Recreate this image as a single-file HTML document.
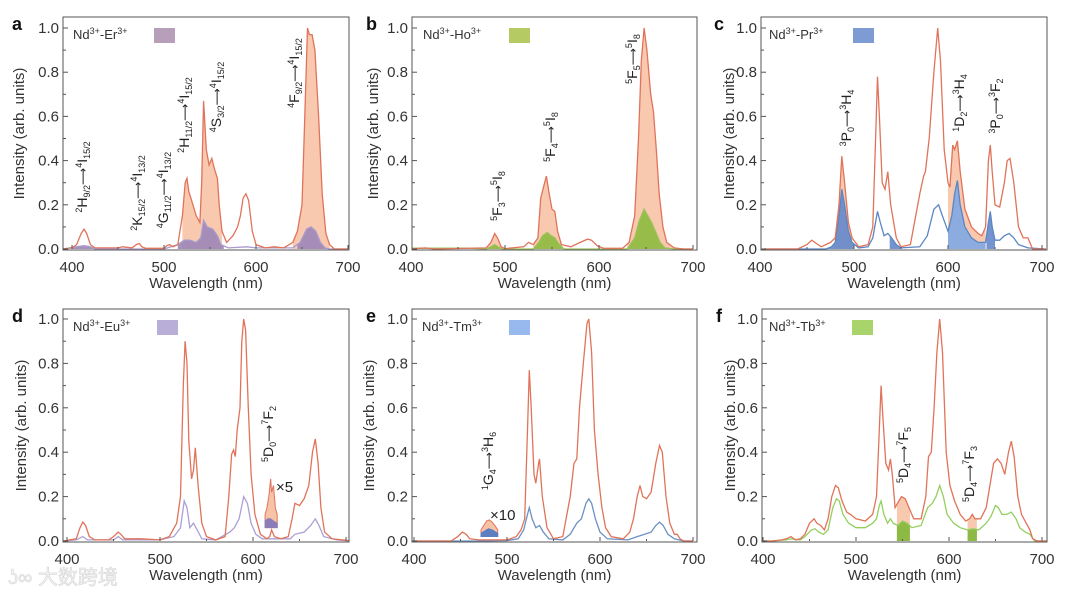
<!DOCTYPE html>
<html><head><meta charset="utf-8">
<style>
html,body{margin:0;padding:0;background:#fff;}
svg{display:block;font-family:"Liberation Sans","Noto Sans CJK SC",sans-serif;}
</style></head>
<body>
<svg id="fig" width="1080" height="597" viewBox="0 0 1080 597"></svg>
<script>
// ---------- DATA ----------
const xTicks = [400, 500, 600, 700];
const yTicks = [0, 0.2, 0.4, 0.6, 0.8, 1.0];
const yTickLabels = ["0.0", "0.2", "0.4", "0.6", "0.8", "1.0"];

const erNd = [[390,0],[400,0.005],[405,0.02],[410,0.07],[413,0.09],[416,0.07],[420,0.02],[425,0.005],[450,0.005],[455,0.01],[465,0.005],[470,0.02],[473,0.025],[476,0.01],[480,0.003],[500,0.003],[503,0.015],[506,0.02],[510,0.01],[515,0.02],[520,0.15],[523,0.3],[525,0.32],[527,0.26],[530,0.22],[535,0.15],[539,0.12],[541,0.3],[543,0.67],[546,0.45],[549,0.38],[552,0.41],[555,0.36],[558,0.32],[560,0.2],[563,0.08],[568,0.03],[575,0.06],[580,0.1],[583,0.15],[586,0.23],[589,0.25],[592,0.22],[596,0.08],[600,0.02],[610,0.005],[620,0.01],[630,0.005],[640,0.03],[645,0.08],[650,0.2],[653,0.6],[656,1.0],[658,0.97],[661,0.97],[664,0.9],[668,0.6],[672,0.25],[676,0.07],[680,0.02],[685,0],[700,0]];
const erDop = [[390,0],[405,0.01],[413,0.015],[420,0.01],[425,0],[500,0],[515,0.02],[522,0.04],[528,0.04],[535,0.03],[540,0.05],[543,0.13],[547,0.1],[553,0.09],[558,0.06],[562,0.02],[570,0.005],[590,0.01],[600,0.005],[640,0.005],[648,0.03],[655,0.09],[660,0.1],[665,0.08],[670,0.03],[675,0.005],[680,0],[700,0]];
const erNdFill = [[520,563],[640,680]];
const erDopFill = [[400,425],[515,565],[645,680]];

const hoNd = [[400,0],[415,0.005],[425,0],[480,0.005],[485,0.03],[489,0.07],[492,0.05],[496,0.01],[500,0.002],[520,0.01],[525,0.03],[530,0.02],[535,0.05],[538,0.23],[541,0.28],[544,0.33],[547,0.25],[550,0.18],[553,0.17],[556,0.08],[560,0.02],[570,0.01],[580,0.03],[588,0.045],[592,0.04],[598,0.015],[605,0.003],[625,0.003],[632,0.03],[638,0.15],[642,0.5],[645,0.85],[648,1.0],[651,0.9],[655,0.7],[658,0.62],[661,0.45],[664,0.25],[668,0.1],[672,0.03],[680,0.005],[690,0],[700,0]];
const hoDop = [[400,0.004],[430,0.004],[440,0.004],[460,0.004],[480,0],[485,0.01],[489,0.02],[493,0.01],[497,0],[530,0],[536,0.03],[540,0.06],[545,0.075],[549,0.06],[553,0.05],[558,0.02],[563,0],[630,0],[638,0.05],[643,0.13],[648,0.18],[652,0.15],[656,0.12],[660,0.08],[665,0.03],[670,0.005],[680,0],[700,0]];
const hoNdFill = [[480,500],[530,560],[630,680]];
const hoDopFill = [[400,430],[440,460],[480,500],[530,565],[630,680]];

const prNd = [[404,0],[440,0],[450,0.02],[455,0.04],[460,0.025],[465,0.01],[470,0.02],[475,0.03],[480,0.05],[484,0.2],[487,0.42],[490,0.3],[494,0.12],[498,0.05],[505,0.01],[515,0.02],[520,0.1],[523,0.5],[525,0.78],[527,0.6],[530,0.3],[533,0.27],[536,0.35],[539,0.2],[545,0.05],[550,0.01],[560,0.02],[570,0.25],[574,0.33],[576,0.35],[580,0.5],[585,0.8],[589,1.0],[592,0.85],[596,0.45],[600,0.3],[602,0.28],[605,0.47],[607,0.45],[610,0.49],[613,0.35],[618,0.18],[625,0.1],[632,0.07],[636,0.06],[640,0.1],[643,0.4],[645,0.47],[647,0.35],[650,0.2],[655,0.19],[660,0.3],[663,0.4],[666,0.41],[670,0.3],[675,0.1],[680,0.05],[685,0.05],[690,0],[704,0]];
const prDop = [[404,0],[470,0],[476,0.01],[480,0.03],[484,0.15],[487,0.27],[490,0.2],[494,0.08],[498,0.03],[505,0.005],[515,0.01],[520,0.05],[525,0.17],[528,0.12],[532,0.06],[536,0.07],[540,0.05],[545,0.02],[550,0.005],[570,0.01],[578,0.06],[585,0.18],[590,0.2],[594,0.15],[600,0.08],[604,0.15],[607,0.25],[610,0.31],[613,0.2],[618,0.1],[625,0.05],[632,0.03],[640,0.03],[643,0.12],[645,0.17],[647,0.1],[650,0.04],[655,0.04],[660,0.06],[665,0.07],[670,0.05],[675,0.02],[685,0.005],[704,0]];
const prNdFill = [[480,498],[600,640]];
const prDopFill = [[470,500],[538,550],[600,640],[641,650]];

const euNd = [[396,0],[410,0.01],[414,0.06],[417,0.085],[420,0.07],[424,0.02],[430,0.005],[445,0.005],[450,0.02],[455,0.04],[458,0.03],[462,0.01],[480,0.01],[500,0.005],[510,0.02],[518,0.08],[522,0.2],[525,0.7],[527,0.9],[529,0.8],[531,0.45],[534,0.28],[536,0.32],[538,0.42],[541,0.25],[545,0.08],[550,0.02],[560,0.005],[570,0.02],[574,0.2],[577,0.39],[579,0.41],[581,0.38],[583,0.5],[586,0.6],[588,0.9],[590,1.0],[592,0.95],[595,0.6],[598,0.3],[602,0.12],[608,0.03],[615,0.01],[618,0.02],[620,0.05],[623,0.02],[630,0.01],[638,0.02],[642,0.1],[645,0.17],[650,0.16],[655,0.19],[660,0.25],[664,0.4],[667,0.46],[670,0.35],[673,0.15],[677,0.04],[685,0.01],[706,0]];
const euDop = [[396,0],[410,0.005],[417,0.02],[422,0.005],[450,0.005],[455,0.02],[460,0.005],[500,0.005],[515,0.02],[522,0.06],[526,0.18],[529,0.15],[532,0.06],[536,0.08],[540,0.05],[545,0.01],[560,0.005],[575,0.04],[580,0.06],[585,0.1],[590,0.2],[594,0.17],[598,0.08],[603,0.03],[610,0.01],[640,0.01],[645,0.03],[655,0.04],[662,0.07],[667,0.1],[671,0.07],[676,0.02],[690,0.005],[706,0]];
const euInsetNd = [[613,0.12],[615,0.15],[617,0.2],[619,0.28],[620,0.22],[622,0.25],[624,0.15],[626,0.12]];
const euInsetDop = [[613,0.09],[616,0.1],[619,0.1],[622,0.09],[626,0.08]];
const euInsetBase = 0.06;

const tmNd = [[400,0],[440,0],[447,0.02],[452,0.04],[456,0.03],[460,0.01],[470,0.005],[500,0.005],[510,0.02],[515,0.05],[519,0.1],[522,0.5],[524,0.77],[526,0.6],[529,0.3],[531,0.26],[534,0.35],[535,0.37],[538,0.2],[543,0.06],[550,0.01],[560,0.02],[568,0.2],[572,0.35],[575,0.37],[578,0.6],[582,0.8],[586,0.98],[588,1.0],[591,0.85],[594,0.5],[598,0.3],[602,0.15],[606,0.06],[612,0.02],[625,0.01],[632,0.04],[636,0.1],[640,0.2],[643,0.25],[646,0.2],[650,0.19],[655,0.22],[660,0.35],[664,0.43],[667,0.4],[671,0.2],[675,0.08],[680,0.03],[683,0.03],[686,0.01],[690,0],[700,0]];
const tmDop = [[400,0],[470,0],[500,0.002],[512,0.01],[518,0.05],[522,0.12],[524,0.15],[527,0.1],[531,0.06],[535,0.07],[539,0.04],[545,0.01],[560,0.005],[568,0.03],[575,0.08],[580,0.1],[585,0.17],[588,0.19],[591,0.17],[595,0.1],[600,0.04],[608,0.01],[630,0.005],[640,0.02],[648,0.03],[655,0.04],[660,0.07],[664,0.085],[668,0.07],[673,0.03],[680,0.01],[690,0],[700,0]];
const tmInsetNd = [[472,0.05],[475,0.07],[478,0.09],[481,0.095],[484,0.085],[487,0.07],[490,0.05]];
const tmInsetDop = [[472,0.035],[476,0.045],[480,0.055],[484,0.05],[488,0.04],[490,0.035]];
const tmInsetBase = 0.02;

const tbNd = [[400,0],[410,0],[420,0.005],[425,0.01],[430,0.02],[435,0.005],[440,0.01],[445,0.03],[450,0.08],[455,0.1],[458,0.08],[462,0.07],[466,0.05],[470,0.1],[474,0.2],[478,0.25],[481,0.24],[485,0.18],[490,0.13],[494,0.12],[500,0.1],[510,0.09],[518,0.12],[522,0.2],[525,0.5],[527,0.7],[529,0.55],[532,0.35],[535,0.32],[537,0.37],[539,0.3],[542,0.15],[546,0.18],[549,0.2],[553,0.19],[557,0.15],[562,0.1],[570,0.1],[575,0.2],[578,0.38],[581,0.4],[584,0.6],[587,0.85],[590,1.0],[593,0.85],[597,0.4],[601,0.25],[606,0.18],[612,0.12],[618,0.09],[622,0.1],[625,0.12],[628,0.1],[634,0.1],[640,0.15],[644,0.25],[648,0.35],[652,0.37],[656,0.35],[660,0.3],[664,0.4],[667,0.45],[670,0.38],[674,0.2],[678,0.12],[683,0.08],[687,0.05],[690,0.01],[695,0],[705,0]];
const tbDop = [[400,0],[410,0],[425,0.005],[430,0.01],[440,0.005],[445,0.02],[452,0.05],[456,0.055],[460,0.04],[465,0.03],[470,0.05],[475,0.15],[479,0.19],[482,0.18],[486,0.12],[492,0.08],[500,0.06],[510,0.06],[518,0.08],[522,0.1],[525,0.16],[527,0.18],[530,0.12],[534,0.08],[537,0.1],[540,0.08],[545,0.07],[550,0.09],[555,0.08],[560,0.06],[570,0.07],[577,0.15],[582,0.17],[586,0.2],[590,0.25],[594,0.2],[598,0.12],[605,0.08],[612,0.06],[620,0.05],[626,0.055],[632,0.05],[640,0.08],[645,0.11],[650,0.16],[653,0.15],[657,0.12],[662,0.12],[667,0.13],[672,0.1],[676,0.06],[682,0.04],[687,0.03],[692,0],[705,0]];
const tbNdFill = [[544,558],[620,630]];
const tbDopFill = [[544,558],[620,630]];

// ---------- LAYOUT ----------
const NS = "http://www.w3.org/2000/svg";
const svg = document.getElementById('fig');
const ORANGE = "#e0735a", ORFILL = "#f7c3a6";
const panels = [
 {id:'a', letter:'a', lxL:12, bx0:63, bx1:349, px400:72, px700:348, top:17, bot:250, y0:249, y1:28, nd:erNd, dop:erDop, ndFill:erNdFill, dopFill:erDopFill, dopLine:"#a99bcc", dopCol:"#9b86b8", sw:"#b79fb9", legend:"Er", lx:73, swx:154, ylx:24},
 {id:'b', letter:'b', lxL:366, bx0:412, bx1:697, px400:411, px700:693, top:17, bot:250, y0:249, y1:28, nd:hoNd, dop:hoDop, ndFill:hoNdFill, dopFill:hoDopFill, dopLine:"#9cc25a", dopCol:"#8cba3e", sw:"#b5ca62", legend:"Ho", lx:423, swx:509, ylx:378},
 {id:'c', letter:'c', lxL:714, bx0:761, bx1:1047, px400:760, px700:1042, top:17, bot:250, y0:249, y1:28, nd:prNd, dop:prDop, ndFill:prNdFill, dopFill:prDopFill, dopLine:"#5b86c4", dopCol:"#6488cc", sw:"#7f9bd3", legend:"Pr", lx:769, swx:853, ylx:734},
 {id:'d', letter:'d', lxL:12, bx0:63, bx1:349, px400:67, px700:346, top:309, bot:542, y0:541, y1:319, nd:euNd, dop:euDop, ndFill:[], dopFill:[], dopLine:"#ab9fd6", dopCol:"#9b86b8", sw:"#b8aed8", legend:"Eu", lx:73, swx:157, ylx:26},
 {id:'e', letter:'e', lxL:366, bx0:412, bx1:697, px400:414, px700:693, top:309, bot:542, y0:541, y1:319, nd:tmNd, dop:tmDop, ndFill:[], dopFill:[], dopLine:"#6b90c4", dopCol:"#6488cc", sw:"#97b9ee", legend:"Tm", lx:422, swx:509, ylx:374},
 {id:'f', letter:'f', lxL:716, bx0:762, bx1:1047, px400:763, px700:1042, top:309, bot:542, y0:541, y1:319, nd:tbNd, dop:tbDop, ndFill:tbNdFill, dopFill:tbDopFill, dopLine:"#93cf5e", dopCol:"#7fb83a", sw:"#a9d46b", legend:"Tb", lx:769, swx:852, ylx:735}
];

function mk(tag, attrs, parent){
  const e = document.createElementNS(NS, tag);
  for (const k in attrs) e.setAttribute(k, attrs[k]);
  (parent||svg).appendChild(e);
  return e;
}
function interp(data, x){
  if (x <= data[0][0]) return data[0][1];
  for (let i=1;i<data.length;i++){
    if (x <= data[i][0]){
      const [xa,ya]=data[i-1], [xb,yb]=data[i];
      return ya + (yb-ya)*(x-xa)/(xb-xa);
    }
  }
  return data[data.length-1][1];
}

panels.forEach(p => {
  const sx = w => p.px400 + (w-400)*(p.px700-p.px400)/300;
  const sy = v => p.y0 - v*(p.y0-p.y1);
  const g = mk('g', {});
  
  
  const wMin = 400 + (p.bx0 - p.px400)*300/(p.px700-p.px400);
  const wMax = 400 + (p.bx1 - p.px400)*300/(p.px700-p.px400);
  const clip = v => Math.max(wMin, Math.min(wMax, v));

  function areaPath(data, a, b, base){
    let d = '';
    a = clip(a); b = clip(b);
    for (let w=a; w<=b+0.001; w+=0.5){
      d += (d?'L':'M') + sx(w).toFixed(1) + ',' + sy(interp(data,w)).toFixed(1);
    }
    d += 'L' + sx(b).toFixed(1) + ',' + sy(base) + 'L' + sx(a).toFixed(1) + ',' + sy(base) + 'Z';
    return d;
  }
  function linePath(data){
    let d = '';
    data.forEach(([w,v]) => {
      const ww = clip(w);
      d += (d?'L':'M') + sx(ww).toFixed(1) + ',' + sy(interp(data,ww)).toFixed(1);
    });
    return d;
  }
  p.ndFill.forEach(([a,b]) => {
    const f = mk('path', {d: areaPath(p.nd,a,b,0), fill: ORFILL, 'fill-opacity':'0.9'}, g);
    
    
  });
  p.dopFill.forEach(([a,b]) => {
    let col = p.dopCol;
    if (p.id==='c' && a===600) col = "#7fa8e6";
    const f = mk('path', {d: areaPath(p.dop,a,b,0), fill: col, 'fill-opacity':'0.9'}, g);
    
    
  });
  const l2 = mk('path', {d: linePath(p.dop), fill:'none', stroke:p.dopLine, 'stroke-width':'1.3'}, g);
  
  
  const l1 = mk('path', {d: linePath(p.nd), fill:'none', stroke:ORANGE, 'stroke-width':'1.3'}, g);
  
  

  function inset(ndD, dopD, base, dopC){
    const a = ndD[0][0], b = ndD[ndD.length-1][0];
    const f1 = mk('path', {d: areaPath(ndD,a,b,base), fill:ORFILL, stroke:ORANGE, 'stroke-width':'1'}, g);
    
    
    const f2 = mk('path', {d: areaPath(dopD,dopD[0][0],dopD[dopD.length-1][0],base), fill:dopC, stroke:dopC, 'stroke-width':'1'}, g);
    
    
  }
  if (p.id==='d') inset(euInsetNd, euInsetDop, euInsetBase, "#8c7db8");
  if (p.id==='e') inset(tmInsetNd, tmInsetDop, tmInsetBase, "#5b7fc0");

  const box = mk('rect', {x:p.bx0, y:p.top, width:p.bx1-p.bx0, height:p.bot-p.top, fill:'none', stroke:'#555', 'stroke-width':'1'}, g);
  
  
  for (let i=0;i<=10;i++){
    const y = sy(i/10);
    const t = mk('line', {x1:p.bx0, x2:p.bx0+(i%2?3:5), y1:y, y2:y, stroke:'#555', 'stroke-width':'1'}, g);
    
    
  }
  yTicks.forEach((v,i) => {
    const t = mk('text', {x:p.bx0-4, y:sy(v)+5, 'text-anchor':'end', 'font-size':'15', fill:'#333'}, g);
    t.textContent = yTickLabels[i];
    
    
  });
  for (let w=400; w<=700; w+=50){
    const x = sx(w);
    if (x < p.bx0 || x > p.bx1) continue;
    const t = mk('line', {x1:x, x2:x, y1:p.bot-1, y2:p.bot-(w%100?3:5), stroke:'#555', 'stroke-width':'1'}, g);
    
    
  }
  xTicks.forEach(w => {
    const t = mk('text', {x:sx(w), y:p.bot+22, 'text-anchor':'middle', 'font-size':'15', fill:'#333'}, g);
    t.textContent = String(w);
    
    
  });
  const xl = mk('text', {x:(p.bx0+p.bx1)/2, y:p.bot+38, 'text-anchor':'middle', 'font-size':'15', fill:'#333'}, g);
  xl.textContent = 'Wavelength (nm)';
  
  
  const yl = mk('text', {transform:`translate(${p.ylx},${(p.top+p.bot)/2}) rotate(-90)`, 'text-anchor':'middle', 'font-size':'15', fill:'#333'}, g);
  yl.textContent = 'Intensity (arb. units)';
  
  
  const lt = mk('text', {x:p.lxL, y:p.top+13, 'font-size':'18', 'font-weight':'bold', fill:'#111'}, g);
  lt.textContent = p.letter;
  
  
  const lg = mk('text', {x:p.lx, y:p.top+22, 'font-size':'13', fill:'#333'}, g);
  
  
  lg.innerHTML = `Nd<tspan font-size="9" dy="-5">3+</tspan><tspan dy="5">-${p.legend}</tspan><tspan font-size="9" dy="-5">3+</tspan>`;
  const sw = mk('rect', {x:p.swx, y:p.top+11, width:21, height:15, fill:p.sw}, g);
  
  
});

// ---------- ANNOTATIONS ----------
const annots = [
  [82,177,[["2","H","9/2"],["4","I","15/2"]]],
  [137,193,[["2","K","15/2"],["4","I","13/2"]]],
  [163,190,[["4","G","11/2"],["4","I","13/2"]]],
  [184,115,[["2","H","11/2"],["4","I","15/2"]]],
  [216,97,[["4","S","3/2"],["4","I","15/2"]]],
  [294,73,[["4","F","9/2"],["4","I","15/2"]]],
  [497,196,[["5","F","3"],["5","I","8"]]],
  [550,137,[["5","F","4"],["5","I","8"]]],
  [632,59,[["5","F","5"],["5","I","8"]]],
  [846,118,[["3","P","0"],["3","H","4"]]],
  [959,103,[["1","D","2"],["3","H","4"]]],
  [995,106,[["3","P","0"],["3","F","2"]]],
  [268,434,[["5","D","0"],["7","F","2"]]],
  [488,461,[["1","G","4"],["3","H","6"]]],
  [903,455,[["5","D","4"],["7","F","5"]]],
  [969,474,[["5","D","4"],["7","F","3"]]]
];
annots.forEach(([x,y,parts]) => {
  const t = mk('text', {transform:`translate(${x+5},${y}) rotate(-90)`, 'text-anchor':'middle', 'font-size':'14', fill:'#222'});
  
  
  let h = '';
  parts.forEach((pt,i) => {
    if (i) h += '<tspan dy="-3" font-family="DejaVu Sans" font-size="12">⟶</tspan><tspan font-size="9" dy="-5">' + pt[0] + '</tspan>';
    else h += '<tspan font-size="9" dy="-5">' + pt[0] + '</tspan>';
    h += `<tspan dy="5">${pt[1]}</tspan><tspan font-size="9" dy="3">${pt[2]}</tspan>`;
  });
  t.innerHTML = h;
});
[[276,492,"×5"],[490,520,"×10"]].forEach(([x,y,s]) => {
  const t = mk('text', {x:x, y:y, 'font-size':'15', fill:'#222'});
  t.textContent = s;
  
  
});
const wm = mk('text', {x:8, y:584, 'font-size':'20', fill:'#f2f2f2', stroke:'#d6d6d6', 'stroke-width':'0.6'});
wm.textContent = 'ʖ∞ 大数跨境';


</script>
</body></html>
